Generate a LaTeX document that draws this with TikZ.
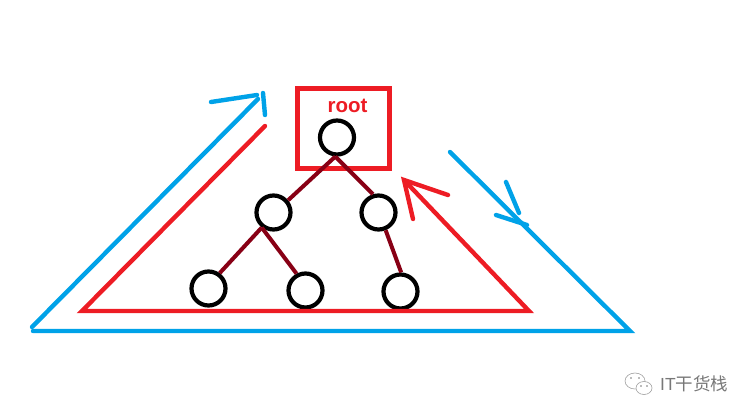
\documentclass[tikz,border=0pt]{standalone}
\usepackage{fontspec}
\setmainfont{Liberation Sans}
\newfontfamily\cjkfont{Noto Sans CJK SC}
\usetikzlibrary{positioning}
\definecolor{paintblue}{RGB}{0,162,232}
\definecolor{paintred}{RGB}{237,28,36}
\definecolor{edgered}{RGB}{136,0,21}
\definecolor{markgray}{RGB}{120,120,120}

\begin{document}
\begin{tikzpicture}[
  x=1pt, y=-1pt,
  treenode/.style={draw=black, circle, line width=4.2pt, minimum size=34pt, inner sep=0pt},
  treeedge/.style={draw=edgered, line width=4pt},
  blueline/.style={draw=paintblue, line width=4.4pt, line cap=round},
  redline/.style={draw=paintred, line width=4.4pt, line cap=round},
  rootbox/.style={draw=paintred, line width=5pt, minimum width=92pt, minimum height=80pt, inner sep=0pt},
  bubble/.style={draw=markgray!70, line width=.6pt},
  bubbledot/.style={fill=markgray, circle, inner sep=0pt, minimum size=1.6pt}]
\useasboundingbox (0,0) rectangle (753,416);
% root box and tree
\node[rootbox] (box) at (343.5,128.5) {};
\node[text=paintred, font=\bfseries\fontsize{20.5}{20.5}\selectfont] (rootlbl) at (347.5,105.5) {root};
\node[treenode] (root) at (337,137.5) {};
\node[treenode] (left) at (273.5,212.5) {};
\node[treenode] (right) at (378.5,212.5) {};
\node[treenode] (leaf1) at (208.5,288.5) {};
\node[treenode] (leaf2) at (305.5,290.5) {};
\node[treenode] (leaf3) at (400.5,291.5) {};
\draw[treeedge] (root.265) -- (left.40);
\draw[treeedge] (root.265) -- (right.107);
\draw[treeedge] (left.232) -- (leaf1.54);
\draw[treeedge] (left.232) -- (leaf2.118);
\draw[treeedge] (right.292) -- (leaf3.88);
% red path
\coordinate (r1) at (265,126);
\coordinate (r2) at (82,311);
\coordinate (r3) at (529,311);
\coordinate (r4) at (404,180);
\coordinate (r5) at (448,195);
\coordinate (r6) at (413,219);
\draw[redline] (r1) -- (r2) -- (r3) -- (r4);
\draw[redline] (r5) -- (r4) -- (r6);
% blue path
\coordinate (b1) at (32,327);
\coordinate (b2) at (258,99);
\coordinate (b3) at (211,102);
\coordinate (b4) at (257,95);
\coordinate (b5) at (263,93);
\coordinate (b6) at (265,115);
\coordinate (b7) at (33,331);
\coordinate (b8) at (630,331);
\coordinate (b9) at (450,152);
\coordinate (b10) at (506,182);
\coordinate (b11) at (519,213);
\coordinate (b12) at (496,215);
\coordinate (b13) at (527,225);
\draw[blueline] (b1) -- (b2);
\draw[blueline] (b3) -- (b4);
\draw[blueline] (b5) -- (b6);
\draw[blueline] (b7) -- (b8) -- (b9);
\draw[blueline] (b10) -- (b11);
\draw[blueline] (b12) -- (b13);
% watermark
\draw[bubble] (635,381) ellipse (10pt and 8pt);
\draw[bubble, fill=white] (644,388) ellipse (8pt and 6.5pt);
\node[bubbledot] (dot1) at (631,378) {};
\node[bubbledot] (dot2) at (639,378) {};
\node[bubbledot] (dot3) at (641,386) {};
\node[bubbledot] (dot4) at (647,386) {};
\node[text=markgray, font=\fontsize{17.5}{17.5}\selectfont, inner sep=0pt, anchor=west] (mark) at (660,384) {IT{\cjkfont 干货栈}};
\end{tikzpicture}
\end{document}
